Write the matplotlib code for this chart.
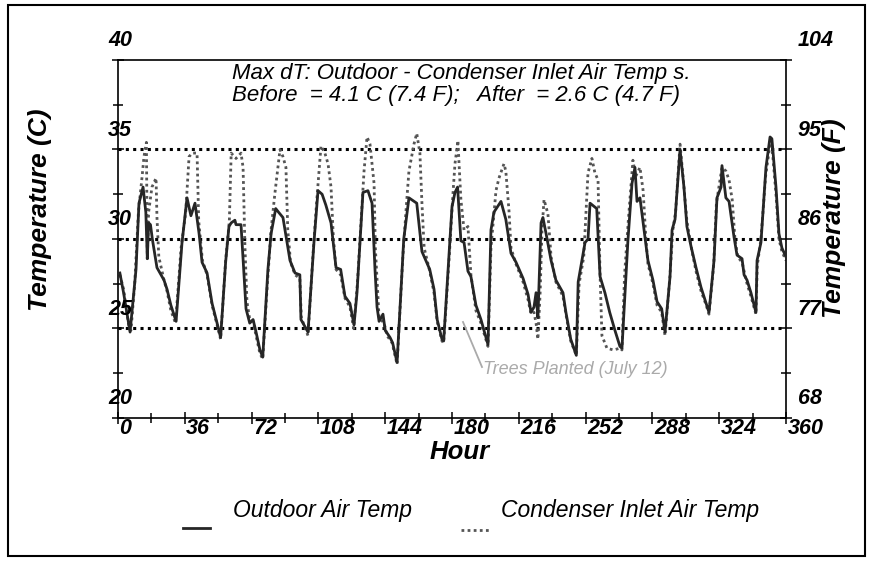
import matplotlib
matplotlib.use("Agg")
import matplotlib.pyplot as plt
import matplotlib.transforms as mtransforms
from matplotlib.lines import Line2D
from matplotlib.patches import Rectangle

plt.rcParams['font.family'] = ['Liberation Sans', 'DejaVu Sans']

# hourly readings (hours since start, deg C)
outdoor_hours = [1, 3, 6.5, 9.7, 11.3, 13.5, 15, 15.8, 16.5, 17.5, 18.5, 21, 24.8, 26.4, 28.5, 31.3,
                 34.5, 37.2, 39.3, 41.5, 43.7, 45.3, 48, 50.7, 53.4, 55.3,
                 58, 59.8, 61, 63, 63.6, 66.3, 69, 71, 72.8, 74.4, 76.5, 78,
                 80.8, 82.5, 85, 86.5, 88.9, 92.7, 95.4, 98, 98.6, 102.4,
                 105.6, 107.8, 110, 112, 114.8, 117.5, 120, 122.3, 125, 127.2,
                 128.8, 130.4, 132, 134.7, 136.9, 138.5, 139.6, 140.7, 142.8, 144, 146.6, 148, 150.4,
                 154, 156.8, 161, 163.8, 168, 170.3, 172, 174.6, 175.5,
                 180, 181.6, 183, 184.8, 186.5, 188.6, 190.2, 192.9, 195.6, 199.4,
                 201, 202.6, 206.4, 209, 211.8, 214.5, 218.3, 221, 222.6, 224.2, 225.3, 226.3,
                 228, 229, 230.7, 233.4, 236, 239.8, 241.4, 244, 247,
                 248, 250, 251.7, 253.3, 254.4, 258, 259.8, 262.4, 265, 267.8, 270.5, 271.6,
                 274.8, 277, 278.6, 279.7, 281.3, 284, 285.6, 288.3, 290.5, 293, 294.8,
                 297.5, 298.6, 300.2, 302.9, 305, 306.6, 308.8, 311.5, 314.2, 317, 318.5,
                 321.2, 322.8, 325, 325.5, 327.6, 329.3, 332, 333.6, 336.3, 337.4, 339, 341.1, 343.8,
                 344.4, 346.5, 349.2, 351.4, 352.4, 354.6, 356.2, 357.8, 360]
outdoor_temps = [28.1, 27.0, 24.8, 28.3, 32.0, 32.9, 31.5, 28.9, 30.9, 30.8, 30.0, 28.4, 27.7, 27.2, 26.3, 25.4,
                 29.8, 32.3, 31.3, 32.0, 30.3, 28.7, 28.1, 26.4, 25.3, 24.5,
                 28.7, 30.7, 30.9, 31.05, 30.8, 30.8, 26.1, 25.3, 25.5, 24.8, 23.8, 23.4,
                 28.3, 30.3, 31.7, 31.5, 31.2, 28.8, 28.1, 28.0, 25.5, 24.8,
                 29.8, 32.7, 32.5, 31.9, 30.9, 28.4, 28.3, 26.8, 26.4, 25.2,
                 27.0, 29.8, 32.6, 32.7, 32.0, 28.3, 26.2, 25.4, 25.8, 24.9, 24.5, 24.2, 23.1,
                 30.0, 32.3, 32.0, 29.3, 28.3, 27.2, 25.5, 24.4, 24.3,
                 31.8, 32.6, 32.9, 29.9, 29.8, 28.2, 27.9, 26.3, 25.5, 24.1,
                 30.5, 31.5, 32.1, 31.1, 29.2, 28.7, 27.8, 26.9, 25.9, 26.2, 27.0, 25.6,
                 30.9, 31.2, 30.3, 28.8, 27.7, 27.0, 25.9, 24.4, 23.5,
                 27.6, 28.8, 29.8, 30.0, 32.0, 31.7, 27.9, 27.0, 25.9, 24.9, 24.0, 23.9,
                 29.9, 33.1, 34.0, 32.1, 32.3, 30.1, 28.8, 27.7, 26.5, 26.1, 24.8,
                 27.9, 30.5, 31.1, 35.0, 32.9, 30.7, 29.6, 28.4, 27.3, 26.4, 25.9,
                 28.8, 32.3, 32.9, 34.1, 32.3, 32.1, 30.1, 29.1, 28.9, 28.0, 27.7, 27.0, 25.9,
                 28.8, 29.8, 34.0, 35.7, 35.6, 32.9, 30.3, 29.5, 29.0]

condenser_hours = [1, 3, 6, 7, 9, 11, 13, 14, 15.3, 15.8, 16.5, 18.3, 20.5, 21, 22, 24.8, 26.4, 28.5, 31,
                   34, 36.5, 38.3, 40, 42.6, 43.5, 45.5, 48, 50.7, 53.4, 55.3,
                   58, 60, 61, 63.6, 66.3, 67.4, 68.4, 69.5, 71, 72.8, 74.4, 76.5, 78,
                   80.5, 82.5, 84.5, 87.3, 88.9, 90.5, 91.5, 93, 95.4, 98, 98.8, 102.4,
                   105, 107, 109.4, 111.5, 113.2, 114.8, 116, 117.5, 120, 122.3, 125, 127,
                   129, 131, 132.6, 134.2, 135.8, 138, 138.7, 140.7, 143.4, 145, 147.7, 150.4,
                   153.5, 155.5, 156.8, 159.5, 161, 162.7, 163.8, 165, 168, 170.3, 172, 174.6, 175.5,
                   178.5, 180.5, 181.6, 183.2, 183.8, 184.8, 186.5, 188.6, 190.2, 192.9, 195.6, 199.4,
                   201, 203.7, 205.3, 208, 209, 210.7, 211.8, 214.5, 218.3, 221, 222.6, 224.2, 225.3, 226.3,
                   227.5, 228.5, 229.6, 231.7, 233.4, 236, 239.8, 241.4, 244, 247,
                   248.5, 251, 253.3, 255.4, 257, 258.7, 259.8, 260.8, 263.5, 267, 270.5, 271.6,
                   273, 275, 277.5, 279, 281.3, 283, 284.5, 285.6, 288.3, 290.5, 293, 294.8,
                   297.5, 299, 300.5, 302.9, 304.5, 306.6, 308.8, 311.5, 314.2, 317, 318.5,
                   321, 322.5, 325.5, 327.6, 329.3, 331, 332.5, 334, 336.3, 339, 341.1, 343.8,
                   344.5, 346.5, 349, 351.9, 353, 354.6, 356.2, 357.8, 360]
condenser_temps = [28.0, 27.2, 25.0, 24.9, 27.5, 31.5, 33.5, 34.6, 35.4, 28.9, 31.5, 32.9, 33.4, 31.2, 29.0, 27.7, 27.1, 26.0, 25.3,
                   29.5, 31.5, 34.6, 34.8, 34.8, 31.0, 28.8, 28.0, 26.3, 25.2, 24.4,
                   28.8, 31.0, 34.8, 34.5, 34.8, 34.0, 29.6, 26.5, 25.5, 25.4, 24.6, 23.6, 23.3,
                   27.5, 30.5, 32.5, 35.0, 34.6, 34.0, 30.5, 28.7, 28.0, 27.8, 25.6, 24.6,
                   29.0, 32.0, 35.2, 34.8, 34.2, 32.9, 30.2, 28.3, 28.0, 26.7, 26.2, 25.0,
                   27.5, 31.0, 33.8, 35.7, 35.3, 33.1, 29.5, 25.6, 25.3, 24.6, 24.2, 23.0,
                   29.0, 32.0, 33.8, 35.3, 35.9, 34.8, 32.0, 29.5, 28.2, 27.0, 25.4, 24.3, 24.2,
                   29.0, 32.5, 34.2, 35.5, 34.2, 32.2, 30.5, 30.7, 28.0, 26.0, 25.3, 24.0,
                   29.5, 32.7, 33.4, 34.2, 33.8, 31.6, 29.5, 28.6, 27.6, 26.6, 25.8, 25.9, 25.3, 24.4,
                   27.0, 30.5, 32.2, 31.4, 29.0, 27.6, 26.8, 25.8, 24.3, 23.5,
                   27.5, 29.0, 33.7, 34.5, 33.7, 33.3, 28.0, 24.6, 23.9, 23.8, 23.9, 23.8,
                   28.0, 31.0, 34.4, 33.5, 34.0, 32.7, 30.0, 28.6, 27.5, 26.3, 25.9, 24.6,
                   28.0, 30.5, 31.5, 35.3, 33.5, 31.0, 29.6, 28.2, 27.1, 26.3, 25.8,
                   28.5, 32.0, 34.0, 33.8, 33.3, 32.2, 30.0, 29.0, 28.7, 27.5, 26.8, 25.8,
                   28.5, 30.0, 33.5, 35.7, 34.5, 32.5, 30.0, 29.3, 28.8]

c_ticks = [20, 25, 30, 35, 40]
f_labels = ['68', '77', '86', '95', '104']
hour_ticks = [0, 36, 72, 108, 144, 180, 216, 252, 288, 324, 360]
ref_lines = [25, 30, 35]

fig = plt.figure(figsize=(8.7, 5.61), dpi=100)
ax = fig.add_axes([118 / 870, 1 - 418 / 561, 668 / 870, 358 / 561])

for v in ref_lines:
    ax.axhline(v, color='black', lw=2.2, linestyle=(0, (1, 1.4)), dash_capstyle='butt', zorder=1)

ax.plot(outdoor_hours, outdoor_temps, color='#262626', lw=2.0, zorder=3)
ax.plot(condenser_hours, condenser_temps, color='#555555', lw=2.0,
        linestyle=(0, (1, 1.2)), dash_capstyle='butt', zorder=2)

ax.set_xlim(0, 360)
ax.set_ylim(20, 40)
ax.set_xticks(hour_ticks)
ax.set_xticks(range(18, 360, 36), minor=True)
ax.set_yticks(c_ticks)
ax.set_yticks([22.5, 27.5, 32.5, 37.5], minor=True)
ax.set_xticklabels([])
ax.set_yticklabels([])
ax.tick_params(which='both', direction='inout', right=True, top=False, width=1.1, color='black')
ax.tick_params(which='major', length=9)
ax.tick_params(which='minor', length=7)
for s in ax.spines.values():
    s.set_linewidth(1.2)

tick_font = dict(fontsize=15.5, fontweight='bold', fontstyle='italic')
left_tr = mtransforms.offset_copy(ax.get_yaxis_transform(), fig=fig, x=0, y=0.19)
for v in c_ticks:
    ax.text(-0.015, v, str(v), transform=left_tr, ha='left', va='center', **tick_font)
right_tr = mtransforms.offset_copy(ax.get_yaxis_transform(), fig=fig, x=0.12, y=0.19)
for v, lab in zip(c_ticks, f_labels):
    ax.text(1.0, v, lab, transform=right_tr, ha='left', va='center', **tick_font)
bottom_tr = mtransforms.offset_copy(ax.get_xaxis_transform(), fig=fig, x=0.015, y=-0.11)
for h in hour_ticks:
    ax.text(h, 0, str(h), transform=bottom_tr, ha='left', va='center', **tick_font)

fig.text(40 / 870, 1 - 210 / 561, 'Temperature (C)', rotation=90, ha='center', va='center',
         fontsize=19, fontweight='bold', fontstyle='italic')
fig.text(834 / 870, 1 - 218 / 561, 'Temperature (F)', rotation=90, ha='center', va='center',
         fontsize=19, fontweight='bold', fontstyle='italic')
fig.text(460 / 870, 1 - 452 / 561, 'Hour', ha='center', va='center',
         fontsize=18.5, fontweight='bold', fontstyle='italic')

fig.text(232 / 870, 1 - 73 / 561, 'Max dT: Outdoor - Condenser Inlet Air Temp s.',
         ha='left', va='center', fontsize=16, fontstyle='italic')
fig.text(232 / 870, 1 - 95 / 561, 'Before  = 4.1 C (7.4 F);   After  = 2.6 C (4.7 F)',
         ha='left', va='center', fontsize=16, fontstyle='italic')

# tree planting note
fig.add_artist(Line2D([463 / 870, 482 / 870], [1 - 322 / 561, 1 - 367 / 561], color='#aaaaaa', lw=1.3))
fig.text(483 / 870, 1 - 369 / 561, 'Trees Planted (July 12)', ha='left', va='center',
         fontsize=13, fontstyle='italic', color='#aaaaaa')

# legend
fig.add_artist(Line2D([183 / 870, 210 / 870], [1 - 528 / 561] * 2, color='#262626', lw=2))
fig.text(233 / 870, 1 - 510 / 561, 'Outdoor Air Temp', ha='left', va='center',
         fontsize=16.5, fontstyle='italic')
fig.add_artist(Line2D([461 / 870, 490 / 870], [1 - 530 / 561] * 2, color='#555555', lw=2,
                      linestyle=(0, (1, 1.2)), dash_capstyle='butt'))
fig.text(501 / 870, 1 - 510 / 561, 'Condenser Inlet Air Temp', ha='left', va='center',
         fontsize=16.5, fontstyle='italic')

fig.add_artist(Rectangle((8 / 870, 1 - 556 / 561), 857 / 870, 551 / 561, transform=fig.transFigure,
                         fill=False, edgecolor='black', lw=1.5))

fig.savefig('out.png', dpi=100)
